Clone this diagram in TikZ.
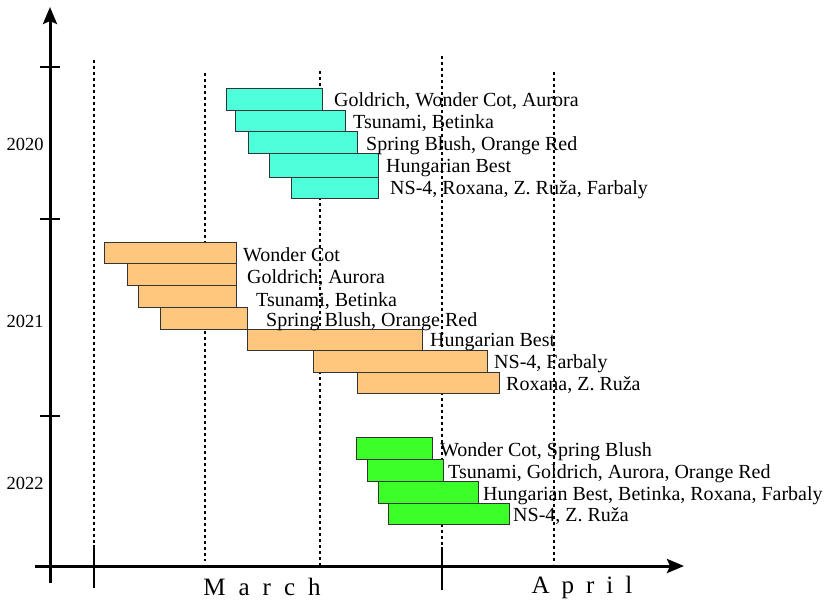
\documentclass[tikz,border=0pt]{standalone}
\usepackage{fontspec}
\setmainfont{Liberation Serif}
\usetikzlibrary{arrows.meta}
\definecolor{cyanbar}{RGB}{77,255,219}
\definecolor{orangebar}{RGB}{255,198,125}
\definecolor{greenbar}{RGB}{60,255,42}
\tikzset{
  barbox/.style={draw=black!80, line width=1pt, anchor=north west, inner sep=0pt, outer sep=0pt},
  lbl/.style={anchor=base west, inner sep=0pt, font=\fontsize{20}{22}\selectfont},
  yearlbl/.style={anchor=base, inner sep=0pt, font=\fontsize{18.5}{20}\selectfont},
  monthlbl/.style={anchor=base, inner sep=0pt, font=\fontsize{25}{28}\selectfont},
  axisline/.style={line width=3pt, -{Stealth[length=17pt,width=14pt,inset=3pt]}},
  tickline/.style={line width=2.2pt},
  guide/.style={line width=2.2pt, dash pattern=on 3pt off 3pt},
}
\newcommand{\mkbar}[6]{%
  \node[barbox, fill=#5, minimum width=#3-#1, minimum height=#4-#2] (#6) at (#1,#2) {};}
\begin{document}
\begin{tikzpicture}[x=1pt,y=-1pt]
\useasboundingbox (0,0) rectangle (826,604);
% guides
\coordinate (g1t) at (94,60);  \coordinate (g1b) at (94,545);
\coordinate (g2t) at (205,73); \coordinate (g2b) at (205,561);
\coordinate (g3t) at (320,71); \coordinate (g3b) at (320,565);
\coordinate (g4t) at (442,56); \coordinate (g4b) at (442,546);
\coordinate (g5t) at (554,72); \coordinate (g5b) at (554,564);
\foreach \g in {g1,g2,g3,g4,g5} \draw[guide] (\g t) -- (\g b);
% axes
\coordinate (vb) at (50,583); \coordinate (vt) at (50,7);
\coordinate (hl) at (35,566); \coordinate (hr) at (684,566);
\draw[axisline] (vb) -- (vt);
\draw[axisline] (hl) -- (hr);
% ticks on vertical axis
\coordinate (ta1) at (40,67);  \coordinate (ta2) at (60,67);
\coordinate (tb1) at (40,219); \coordinate (tb2) at (60,219);
\coordinate (tc1) at (40,416); \coordinate (tc2) at (60,416);
\draw[tickline] (ta1) -- (ta2);
\draw[tickline] (tb1) -- (tb2);
\draw[tickline] (tc1) -- (tc2);
% ticks on horizontal axis
\coordinate (hm1) at (94,545);  \coordinate (hm2) at (94,588);
\coordinate (ha1) at (442,547); \coordinate (ha2) at (442,590);
\draw[line width=2pt] (hm1) -- (hm2);
\draw[line width=2pt] (ha1) -- (ha2);
% year labels
\node[yearlbl] (y2020) at (25,150) {2020};
\node[yearlbl] (y2021) at (25,327) {2021};
\node[yearlbl] (y2022) at (25,489) {2022};
% month labels
\node[monthlbl] (march) at (262,595) {M\hspace{13pt}a\hspace{13pt}r\hspace{13pt}c\hspace{13pt}h};
\node[monthlbl] (april) at (582,593) {A\hspace{12pt}p\hspace{12pt}r\hspace{12pt}i\hspace{12pt}l};
% 2020 (cyan)
\mkbar{226}{89}{322}{111}{cyanbar}{c1}
\mkbar{235}{111}{345}{132}{cyanbar}{c2}
\mkbar{248}{132}{357}{154}{cyanbar}{c3}
\mkbar{269}{154}{378}{177}{cyanbar}{c4}
\mkbar{291}{177}{378}{198}{cyanbar}{c5}
\node[lbl] (lc1) at (334,106.5) {Goldrich, Wonder Cot, Aurora};
\node[lbl] (lc2) at (353,128.3) {Tsunami, Betinka};
\node[lbl] (lc3) at (366,150) {Spring Blush, Orange Red};
\node[lbl] (lc4) at (386,172) {Hungarian Best};
\node[lbl] (lc5) at (390,194) {NS-4, Roxana, Z. Ruža, Farbaly};
% 2021 (orange)
\mkbar{104}{242}{236}{263}{orangebar}{o1}
\mkbar{127}{263}{236}{285}{orangebar}{o2}
\mkbar{138}{285}{236}{307}{orangebar}{o3}
\mkbar{160}{307}{247}{329}{orangebar}{o4}
\mkbar{247}{329}{422}{350}{orangebar}{o5}
\mkbar{313}{350}{487}{372}{orangebar}{o6}
\mkbar{357}{372}{499}{393}{orangebar}{o7}
\node[lbl] (lo1) at (243,261.7) {Wonder Cot};
\node[lbl] (lo2) at (247,283.3) {Goldrich, Aurora};
\node[lbl] (lo3) at (256,306) {Tsunami, Betinka};
\node[lbl] (lo4) at (266,326.7) {Spring Blush, Orange Red};
\node[lbl] (lo5) at (430,346.7) {Hungarian Best};
\node[lbl] (lo6) at (494,368) {NS-4, Farbaly};
\node[lbl] (lo7) at (506,390.7) {Roxana, Z. Ruža};
% 2022 (green)
\mkbar{356}{437}{432}{459}{greenbar}{e1}
\mkbar{367}{459}{443}{481}{greenbar}{e2}
\mkbar{378}{481}{478}{503}{greenbar}{e3}
\mkbar{388}{503}{509}{524}{greenbar}{e4}
\node[lbl] (le1) at (440,456) {Wonder Cot, Spring Blush};
\node[lbl] (le2) at (448,478.3) {Tsunami, Goldrich, Aurora, Orange Red};
\node[lbl] (le3) at (483,500) {Hungarian Best, Betinka, Roxana, Farbaly};
\node[lbl] (le4) at (513,521.7) {NS-4, Z. Ruža};
\end{tikzpicture}
\end{document}
